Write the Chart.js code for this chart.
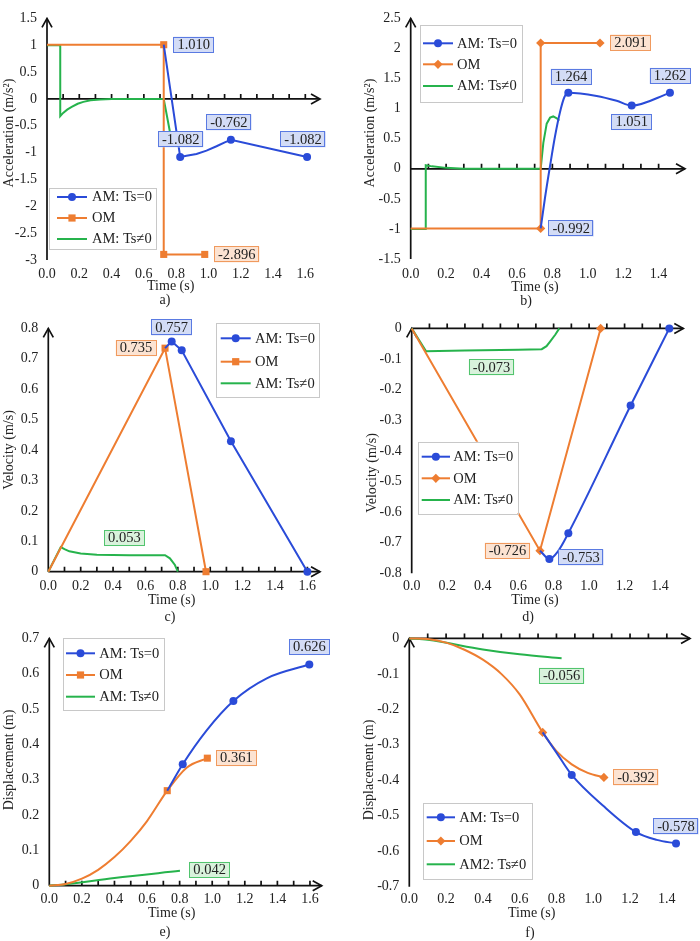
<!DOCTYPE html>
<html><head><meta charset="utf-8">
<script src="https://cdn.jsdelivr.net/npm/chart.js@4.4.0/dist/chart.umd.min.js"></script>
<style>
html,body{margin:0;padding:0;background:#fff;}
#fig{position:relative;width:700px;height:941px;overflow:hidden;}
#fig canvas{position:absolute;}
</style></head><body>
<div id="fig">
  <canvas id="ca" width="350" height="330" style="left:0;top:0"></canvas>
  <canvas id="cb" width="350" height="330" style="left:350px;top:0"></canvas>
  <canvas id="cc" width="350" height="330" style="left:0;top:310px"></canvas>
  <canvas id="cd" width="350" height="330" style="left:350px;top:310px"></canvas>
  <canvas id="ce" width="350" height="321" style="left:0;top:620px"></canvas>
  <canvas id="cf" width="350" height="321" style="left:350px;top:620px"></canvas>
</div>
<script>
// ---- data (time s, value) ----
const ticks16 = [0,0.2,0.4,0.6,0.8,1.0,1.2,1.4,1.6];
const ticks14 = [0,0.2,0.4,0.6,0.8,1.0,1.2,1.4];
const minor16 = [0.1,0.2,0.3,0.4,0.5,0.6,0.7,0.8,0.9,1.0,1.1,1.2,1.3,1.4,1.5,1.6];
const minor14 = [0.1,0.2,0.3,0.4,0.5,0.6,0.7,0.8,0.9,1.0,1.1,1.2,1.3,1.4];
const names = ["AM: Ts=0","OM","AM: Ts\u22600"];
const namesF = ["AM: Ts=0","OM","AM2: Ts\u22600"];

// a) acceleration
const aYTicks = [-3,-2.5,-2,-1.5,-1,-0.5,0,0.5,1,1.5];
const aBlue = [[0.723,1.010],[0.825,-1.082],[0.864,-1.06],[0.926,-1.025],[0.988,-0.964],[1.05,-0.881],[1.101,-0.808],[1.139,-0.762],[1.611,-1.082]];
const aBlueMk = [1,7,8];
const aOrange = [[0,1.010],[0.723,1.010],[0.723,-2.896],[0.977,-2.896]];
const aOrangeMk = [1,2,3];
const aGreen = [[0,1.0],[0.082,1.0],[0.082,-0.32],[0.1,-0.26],[0.125,-0.2],[0.153,-0.15],[0.19,-0.09],[0.225,-0.055],[0.27,-0.025],[0.33,-0.01],[0.4,0],[0.723,0],[0.745,-0.35],[0.77,-0.75]];
const aLabels = [[0.723,1.010],[0.825,-1.082],[1.139,-0.762],[1.611,-1.082],[0.977,-2.896]];

// b) acceleration
const bYTicks = [-1.5,-1,-0.5,0,0.5,1,1.5,2,2.5];
const bBlue = [[0.734,-0.992],[0.758,-0.49],[0.787,0.05],[0.815,0.54],[0.843,0.94],[0.867,1.185],[0.89,1.264],[1.05,1.21],[1.163,1.13],[1.248,1.051],[1.464,1.262]];
const bBlueMk = [6,9,10];
const bOrange = [[0,-0.992],[0.734,-0.992],[0.734,2.091],[1.069,2.091]];
const bOrangeMk = [1,2,3];
const bGreen = [[0,-1.0],[0.085,-1.0],[0.085,0.06],[0.12,0.04],[0.2,0.015],[0.3,0],[0.734,0],[0.749,0.43],[0.768,0.75],[0.787,0.85],[0.805,0.87],[0.825,0.84],[0.839,0.8]];
const bLabels = [[0.734,-0.992],[1.069,2.091],[0.89,1.264],[1.248,1.051],[1.464,1.262]];

// c) velocity
const cYTicks = [0,0.1,0.2,0.3,0.4,0.5,0.6,0.7,0.8];
const cBlue = [[0.721,0.735],[0.762,0.757],[0.824,0.728],[1.128,0.429],[1.6,0]];
const cBlueMk = [1,2,3,4];
const cOrange = [[0,0],[0.721,0.735],[0.974,0]];
const cOrangeMk = [1,2];
const cGreen = [[0,0],[0.077,0.081],[0.1,0.074],[0.13,0.067],[0.2,0.06],[0.3,0.056],[0.5,0.054],[0.721,0.054],[0.751,0.044],[0.782,0.022],[0.8,0]];
const cLabels = [[0.762,0.757],[0.721,0.735],[0.47,0.053]];

// d) velocity
const dYTicks = [-0.8,-0.7,-0.6,-0.5,-0.4,-0.3,-0.2,-0.1,0];
const dBlue = [[0.723,-0.726],[0.776,-0.753],[0.826,-0.727],[0.883,-0.669],[1.234,-0.252],[1.452,0]];
const dBlueMk = [1,3,4,5];
const dOrange = [[0,0],[0.723,-0.726],[1.065,0]];
const dOrangeMk = [1,2];
const dGreen = [[0,0],[0.081,-0.075],[0.3,-0.072],[0.6,-0.07],[0.733,-0.068],[0.76,-0.058],[0.78,-0.043],[0.81,-0.02],[0.832,0]];
const dLabels = [[0.45,-0.073],[0.723,-0.726],[0.776,-0.753]];

// e) displacement
const eYTicks = [0,0.1,0.2,0.3,0.4,0.5,0.6,0.7];
const eBlue = [[0.724,0.269],[0.819,0.344],[0.966,0.44],[1.13,0.523],[1.335,0.587],[1.596,0.626]];
const eBlueMk = [1,3,5];
const eOrange = [[0,0],[0.1,0.005],[0.2,0.02],[0.3,0.045],[0.4,0.081],[0.5,0.127],[0.6,0.183],[0.724,0.269],[0.843,0.334],[0.97,0.361]];
const eOrangeMk = [7,9];
const eGreen = [[0,0],[0.08,0.003],[0.4,0.022],[0.802,0.042]];
const eLabels = [[1.596,0.626],[0.97,0.361],[0.802,0.042]];

// f) displacement
const fYTicks = [-0.7,-0.6,-0.5,-0.4,-0.3,-0.2,-0.1,0];
const fBlue = [[0.725,-0.265],[0.8,-0.322],[0.883,-0.385],[1.054,-0.472],[1.232,-0.546],[1.345,-0.568],[1.45,-0.578]];
const fBlueMk = [2,4,6];
const fOrange = [[0,0],[0.1,-0.002],[0.2,-0.012],[0.3,-0.032],[0.4,-0.06],[0.5,-0.1],[0.6,-0.158],[0.725,-0.265],[0.8,-0.318],[0.883,-0.355],[0.97,-0.379],[1.058,-0.392]];
const fOrangeMk = [7,11];
const fGreen = [[0,0],[0.1,-0.004],[0.4,-0.031],[0.6,-0.045],[0.828,-0.056]];
const fLabels = [[0.828,-0.056],[1.058,-0.392],[1.45,-0.578]];

// ---- styling ----
const SERIF = '"Liberation Serif", "Times New Roman", serif';
const COL = {blue:'#2a4bd8', orange:'#ee7d31', green:'#26b34c'};
const BOX = {blue:['#d3dcf6','#5a7ae2'], orange:['#fce3d2','#f09a5e'], green:['#d9f2dc','#52c46e']};

function drawMark(ctx, style, x, y, color) {
  if (!style) return;
  ctx.fillStyle = color;
  ctx.beginPath();
  if (style === 'circle') ctx.arc(x, y, 4, 0, Math.PI*2);
  else if (style === 'rect') ctx.rect(x-3.6, y-3.6, 7.2, 7.2);
  else { ctx.moveTo(x, y-4.6); ctx.lineTo(x+4.6, y); ctx.lineTo(x, y+4.6); ctx.lineTo(x-4.6, y); ctx.closePath(); }
  ctx.fill();
}

const deco = {
  id: 'deco',
  beforeDatasetsDraw(chart, args, o) {
    const {ctx, chartArea: ca, scales: {x, y}} = chart;
    const y0 = y.getPixelForValue(0);
    ctx.save();
    ctx.strokeStyle = '#111'; ctx.lineWidth = 1.7;
    ctx.beginPath();
    ctx.moveTo(ca.left, ca.bottom); ctx.lineTo(ca.left, ca.top);
    ctx.moveTo(ca.left, y0); ctx.lineTo(ca.right, y0);
    o.minor.forEach(v => { const px = x.getPixelForValue(v); ctx.moveTo(px, y0); ctx.lineTo(px, y0 - 5); });
    ctx.stroke();
    ctx.beginPath();
    ctx.moveTo(ca.right - 9, y0 - 5); ctx.lineTo(ca.right, y0); ctx.lineTo(ca.right - 9, y0 + 5);
    ctx.moveTo(ca.left - 5, ca.top + 9); ctx.lineTo(ca.left, ca.top); ctx.lineTo(ca.left + 5, ca.top + 9);
    ctx.stroke();
    ctx.restore();
  },
  afterDatasetsDraw(chart, args, o) {
    const {ctx, scales: {x, y}} = chart;
    ctx.save();
    // value boxes
    ctx.font = '14.5px ' + SERIF;
    ctx.textAlign = 'center'; ctx.textBaseline = 'middle';
    o.labels.forEach((p, i) => {
      const [dx, dy] = o.offsets[i], c = o.colors[i];
      const cx = x.getPixelForValue(p[0]) + dx, cy = y.getPixelForValue(p[1]) + dy;
      const t = p[1].toFixed(3);
      const w = ctx.measureText(t).width + 8, h = 16;
      ctx.fillStyle = BOX[c][0]; ctx.fillRect(cx - w/2, cy - h/2, w, h);
      ctx.strokeStyle = BOX[c][1]; ctx.lineWidth = 1;
      ctx.strokeRect(Math.round(cx - w/2) + 0.5, Math.round(cy - h/2) + 0.5, Math.round(w) - 1, h - 1);
      ctx.fillStyle = '#222'; ctx.fillText(t, cx, cy + 0.5);
    });
    // legend
    const lg = o.legend;
    ctx.fillStyle = '#fff'; ctx.fillRect(lg.box[0], lg.box[1], lg.box[2], lg.box[3]);
    ctx.strokeStyle = '#c8c8c8'; ctx.lineWidth = 1;
    ctx.strokeRect(Math.round(lg.box[0]) + 0.5, Math.round(lg.box[1]) + 0.5, Math.round(lg.box[2]), Math.round(lg.box[3]));
    ctx.font = '14.5px ' + SERIF; ctx.textAlign = 'left';
    ['blue','orange','green'].forEach((c, i) => {
      const ry = lg.rows[i];
      ctx.strokeStyle = COL[c]; ctx.lineWidth = 2;
      ctx.beginPath(); ctx.moveTo(lg.line[0], ry); ctx.lineTo(lg.line[1], ry); ctx.stroke();
      drawMark(ctx, lg.marks[i], (lg.line[0] + lg.line[1]) / 2, ry, COL[c]);
      ctx.fillStyle = '#222'; ctx.fillText(lg.names[i], lg.tx, ry + 0.5);
    });
    ctx.restore();
  },
  afterDraw(chart, args, o) {
    const ctx = chart.ctx;
    ctx.save();
    ctx.fillStyle = '#222'; ctx.textAlign = 'center'; ctx.textBaseline = 'middle';
    ctx.font = '14px ' + SERIF;
    const [yx, yy] = o.ytitle;
    ctx.save(); ctx.translate(yx, yy); ctx.rotate(-Math.PI/2); ctx.fillText(o.ytext, 0, 0); ctx.restore();
    ctx.fillText('Time (s)', o.xtitle[0], o.xtitle[1]);
    ctx.fillText(o.cap, o.capPos[0], o.capPos[1]);
    ctx.restore();
  }
};

function series(data, color, marks, style, smooth) {
  return {
    data: data.map(p => ({x: p[0], y: p[1]})),
    borderColor: color, backgroundColor: color, borderWidth: 2,
    tension: 0, cubicInterpolationMode: smooth ? 'monotone' : 'default',
    pointStyle: style,
    pointRadius: ctx => marks.includes(ctx.dataIndex) ? (style === 'rect' ? 5 : style === 'rectRot' ? 4.6 : 4) : 0,
    pointBorderWidth: 0, pointHoverRadius: 0,
    clip: false
  };
}

function makeChart(id, g, sets, deco_opts) {
  const H = document.getElementById(id).height;
  return new Chart(document.getElementById(id), {
    type: 'line',
    data: {datasets: sets},
    options: {
      responsive: false, animation: false, events: [],
      layout: {padding: {left: 0, top: g.T, right: 350 - g.R, bottom: 0}},
      plugins: {legend: {display: false}, tooltip: {enabled: false}, deco: deco_opts},
      scales: {
        x: {
          type: 'linear', min: 0, max: g.xmax,
          grid: {display: false, drawTicks: false}, border: {display: false},
          afterBuildTicks: s => { s.ticks = g.xT.map(v => ({value: v})); },
          afterFit: s => { s.height = H - g.B; },
          ticks: {autoSkip: false, maxRotation: 0, padding: g.xpad, color: '#222',
            font: {family: SERIF, size: 14}, callback: v => v.toFixed(1)}
        },
        y: {
          type: 'linear', min: g.ymin, max: g.ymax,
          grid: {display: false, drawTicks: false}, border: {display: false},
          afterBuildTicks: s => { s.ticks = g.yT.map(v => ({value: v})); },
          afterFit: s => { s.width = g.L; },
          ticks: {autoSkip: false, padding: 10, color: '#222',
            font: {family: SERIF, size: 14}, callback: v => String(v)}
        }
      }
    },
    plugins: [deco]
  });
}

const ACC = 'Acceleration (m/s\u00B2)', VEL = 'Velocity (m/s)', DIS = 'Displacement (m)';

// a)
makeChart('ca', {L:47,T:11,R:320,B:260,xmax:1.691,ymin:-3,ymax:1.5,xpad:5.5,xT:ticks16,yT:aYTicks}, [
  series(aBlue, COL.blue, aBlueMk, 'circle', false),
  series(aOrange, COL.orange, aOrangeMk, 'rect', false),
  series(aGreen, COL.green, [], 'circle', false)
], {
  minor: minor16, labels: aLabels,
  colors: ['blue','blue','blue','blue','orange'],
  offsets: [[30,0],[0.5,-17.7],[-2,-17.5],[-4,-17.7],[32,0]],
  legend: {box:[49,188,107,61], rows:[197,218,239], line:[57,87], tx:92, marks:['circle','rect',null], names: names},
  ytext: ACC, ytitle:[9.5,133], xtitle:[170.7,286], cap:'a)', capPos:[165,300]
});

// b)
makeChart('cb', {L:60.7,T:12,R:335,B:259,xmax:1.549,ymin:-1.5,ymax:2.5,xpad:7,xT:ticks14,yT:bYTicks}, [
  series(bBlue, COL.blue, bBlueMk, 'circle', true),
  series(bOrange, COL.orange, bOrangeMk, 'rectRot', false),
  series(bGreen, COL.green, [], 'circle', false)
], {
  minor: minor14, labels: bLabels,
  colors: ['blue','orange','blue','blue','blue'],
  offsets: [[30.5,0],[30.5,-0.5],[2.7,-16],[0,16.5],[0,-17]],
  legend: {box:[70,25,101.7,76.7], rows:[43.3,64.3,86], line:[73,103], tx:107, marks:['circle','rectRot',null], names: names},
  ytext: ACC, ytitle:[20,133], xtitle:[185,287.3], cap:'b)', capPos:[176,301]
});

// c)
makeChart('cc', {L:48.3,T:16,R:320,B:261.7,xmax:1.678,ymin:0,ymax:0.8,xpad:6,xT:ticks16,yT:cYTicks}, [
  series(cBlue, COL.blue, cBlueMk, 'circle', false),
  series(cOrange, COL.orange, cOrangeMk, 'rect', false),
  series(cGreen, COL.green, [], 'circle', false)
], {
  minor: minor16, labels: cLabels,
  colors: ['blue','orange','green'],
  offsets: [[0,-14],[-29,0],[0,-17.5]],
  legend: {box:[216,13.3,103.3,74], rows:[28.3,51.7,73.3], line:[220.7,250.7], tx:255, marks:['circle','rect',null], names: names},
  ytext: VEL, ytitle:[9,140], xtitle:[171.7,290], cap:'c)', capPos:[170,307]
});

// d)
makeChart('cd', {L:61.7,T:15,R:333.3,B:263.3,xmax:1.531,ymin:-0.8,ymax:0,xpad:4.5,xT:ticks14,yT:dYTicks}, [
  series(dBlue, COL.blue, dBlueMk, 'circle', true),
  series(dOrange, COL.orange, dOrangeMk, 'rectRot', false),
  series(dGreen, COL.green, [], 'circle', false)
], {
  minor: minor14, labels: dLabels,
  colors: ['green','orange','blue'],
  offsets: [[0,16.6],[-32.5,0],[31.6,-1.5]],
  legend: {box:[68.3,131.7,100,71.6], rows:[146.7,168.3,190], line:[71.7,100], tx:103.3, marks:['circle','rectRot',null], names: names},
  ytext: VEL, ytitle:[22,163], xtitle:[185,290], cap:'d)', capPos:[178,307]
});

// e)
makeChart('ce', {L:49.3,T:18.3,R:321.7,B:265.7,xmax:1.672,ymin:0,ymax:0.7,xpad:5.5,xT:ticks16,yT:eYTicks}, [
  series(eBlue, COL.blue, eBlueMk, 'circle', true),
  series(eOrange, COL.orange, eOrangeMk, 'rect', true),
  series(eGreen, COL.green, [], 'circle', true)
], {
  minor: minor16, labels: eLabels,
  colors: ['blue','orange','green'],
  offsets: [[0,-17.5],[29,0],[29.7,-1]],
  legend: {box:[62.7,18.3,100.6,71.7], rows:[33.3,55,76.7], line:[66,95], tx:99.3, marks:['circle','rect',null], names: names},
  ytext: DIS, ytitle:[9.5,140], xtitle:[171.7,293.3], cap:'e)', capPos:[165,312]
});

// f)
makeChart('cf', {L:59.3,T:17.3,R:340,B:266.7,xmax:1.526,ymin:-0.7,ymax:0,xpad:4.5,xT:ticks14,yT:fYTicks}, [
  series(fBlue, COL.blue, fBlueMk, 'circle', true),
  series(fOrange, COL.orange, fOrangeMk, 'rectRot', true),
  series(fGreen, COL.green, [], 'circle', true)
], {
  minor: minor14, labels: fLabels,
  colors: ['green','orange','blue'],
  offsets: [[0,17.5],[32,0],[0,-17]],
  legend: {box:[72.7,182.7,109,75.6], rows:[197.3,221,244.3], line:[76.7,105], tx:109.3, marks:['circle','rectRot',null], names: namesF},
  ytext: DIS, ytitle:[19,150], xtitle:[181.7,293.3], cap:'f)', capPos:[180,313]
});
</script>
</body></html>
